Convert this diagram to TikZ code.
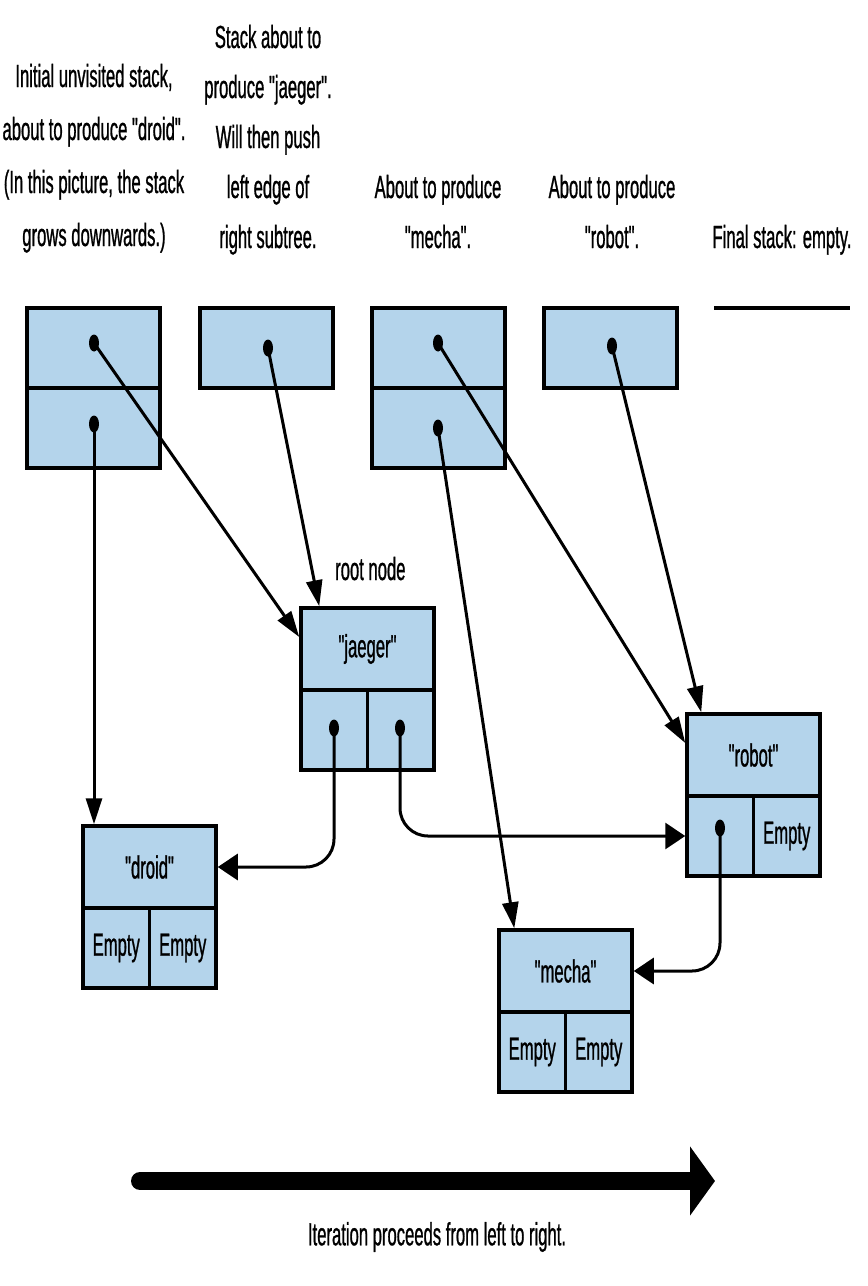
\documentclass[tikz,border=0pt]{standalone}
\usepackage{fontspec}
\setmainfont{Liberation Sans}[FakeStretch=0.52,FakeBold=0.8,Ligatures=TeXOff]
\usetikzlibrary{arrows.meta}
\usetikzlibrary{shapes.geometric}
\definecolor{cellblue}{RGB}{180,212,235}

\begin{document}
\begin{tikzpicture}[x=1pt,y=-1pt,
  cell/.style={draw,line width=3.5pt,fill=cellblue,inner sep=0pt,minimum height=80pt,font=\fontsize{32}{40}\selectfont},
  stackcell/.style={cell,minimum width=133pt},
  keycell/.style={cell,minimum width=133pt,minimum height=82pt},
  halfcell/.style={cell,minimum width=66.5pt},
  dot/.style={ellipse,fill=black,inner sep=0pt,minimum width=10pt,minimum height=17pt},
  caption/.style={align=center,inner sep=0pt,font=\fontsize{32}{50}\selectfont},
  ptr/.style={line width=3pt,-{Triangle[length=26pt,width=16pt]}},
  hptr/.style={line width=3pt,rounded corners=28pt,-{Triangle[length=20pt,width=26pt]}}]
\useasboundingbox (0,0) rectangle (868,1286);
% captions over the stacks
\node[caption,anchor=base,font=\fontsize{32}{53}\selectfont] (note1) at (94,246) {Initial unvisited stack,\\about to produce "droid".\\(In this picture, the stack\\grows downwards.)};
\node[caption,anchor=base] (note2) at (268,248) {Stack about to\\produce "jaeger".\\Will then push\\left edge of\\right subtree.};
\node[caption,anchor=base] (note3) at (438,248) {About to produce\\"mecha".};
\node[caption,anchor=base] (note4) at (612,248) {About to produce\\"robot".};
\node[caption,anchor=base] (note5) at (782,248) {Final stack: empty.};
% the stacks
\node[stackcell] (s1a) at (93.5,348) {}; % stack 1
\node[stackcell] (s1b) at (93.5,428) {};
\node[stackcell] (s2a) at (266.5,348) {}; % stack 2
\node[stackcell] (s3a) at (438.5,348) {}; % stack 3
\node[stackcell] (s3b) at (438.5,428) {};
\node[stackcell] (s4a) at (610.5,348) {}; % stack 4
\draw[line width=3.5pt] (714,308) -- (850,308); % empty stack
% tree nodes
\node[keycell] (jaeger) at (367.5,649) {"jaeger"}; % jaeger
\node[halfcell] (jaegerl) at (334.25,730) {};
\node[halfcell] (jaegerr) at (400.75,730) {};
\node[keycell] (droid) at (149.5,867) {"droid"}; % droid
\node[halfcell] (droidl) at (116.25,948) {Empty};
\node[halfcell] (droidr) at (182.75,948) {Empty};
\node[keycell] (robot) at (753.5,755) {"robot"}; % robot
\node[halfcell] (robotl) at (720.25,836) {};
\node[halfcell] (robotr) at (786.75,836) {Empty};
\node[keycell] (mecha) at (565.5,971) {"mecha"}; % mecha
\node[halfcell] (mechal) at (532.25,1052) {Empty};
\node[halfcell] (mechar) at (598.75,1052) {Empty};
\node[anchor=base west,inner sep=0pt,font=\fontsize{32}{40}\selectfont] (rootlabel) at (335,580) {root node};
% pointer dots
\node[dot] (d1a) at (94,343) {};
\node[dot] (d1b) at (94,424) {};
\node[dot] (d2a) at (268,348) {};
\node[dot] (d3a) at (438,343) {};
\node[dot] (d3b) at (438,428) {};
\node[dot] (d4a) at (612,346) {};
\node[dot] (djl) at (334,728) {};
\node[dot] (djr) at (400,728) {};
\node[dot] (drl) at (720,828) {};
% pointers
\draw[ptr] (d1a.center) -- ([yshift=12pt]jaeger.west);
\draw[ptr] (d1b.center) -- (d1b.center |- droid.north);
\draw[ptr] (d2a.center) -- ([xshift=20pt]jaeger.north west);
\draw[ptr] (d3a.center) -- ([yshift=12pt]robot.west);
\draw[ptr] (d3b.center) -- ([xshift=17pt]mecha.north west);
\draw[ptr] (d4a.center) -- ([xshift=16pt]robot.north west);
\draw[hptr] (djl.center) |- (droid.east);
\draw[hptr] (djr.center) |- (robotl.west);
\draw[hptr] (drl.center) |- (mecha.east);
% iteration arrow
\coordinate (iterstart) at (140,1181);
\coordinate (iterend) at (715,1181);
\draw[line width=18pt,line cap=round,-{Triangle[length=25pt,width=68pt]}] (iterstart) -- (iterend);
\node[caption] (itertext) at (437,1237) {Iteration proceeds from left to right.};
\end{tikzpicture}
\end{document}
